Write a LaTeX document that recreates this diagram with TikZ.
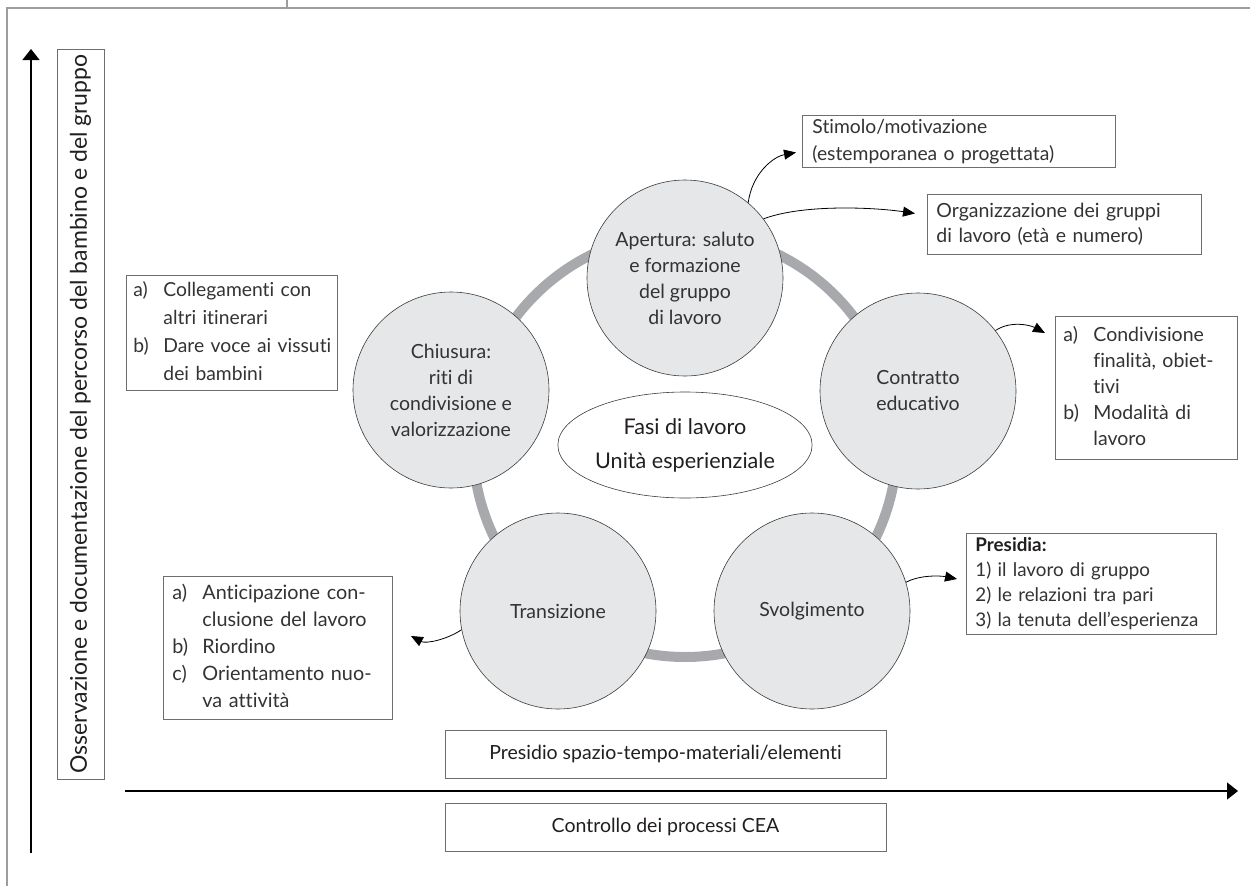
\documentclass[tikz,border=0pt]{standalone}
\usepackage{fontspec}
\setmainfont{Lato}[Ligatures={NoCommon,NoContextual,NoRare}]
\usetikzlibrary{arrows.meta,shapes.geometric}
\definecolor{txt}{HTML}{231F20}
\definecolor{txtl}{HTML}{333335}
\definecolor{cfill}{HTML}{E6E7E8}
\definecolor{cline}{HTML}{3C3C3C}
\definecolor{ringc}{HTML}{A7A9AC}
\definecolor{bline}{HTML}{6D6E71}
\definecolor{framec}{HTML}{9D9D9D}
\newcommand{\lst}[1]{\begin{tabular}{@{}p{30pt}@{}l@{}}#1\end{tabular}}
\begin{document}
\begin{tikzpicture}[x=1pt,y=-1pt,
  phase/.style={circle, draw=cline, line width=0.6pt, fill=cfill, minimum size=196pt, inner sep=0pt, align=center, text=txtl, font=\fontsize{19.5}{26}\selectfont},
  infobox/.style={draw=bline, line width=0.9pt, fill=white, anchor=north west, inner ysep=0pt, align=left, text=txtl},
  conn/.style={line width=0.8pt, -{Triangle[length=12pt,width=10pt]}},
  axis/.style={line width=1.3pt, -{Triangle[length=11pt,width=17pt]}},
]
\useasboundingbox (0,0) rectangle (1250,886);
% page frame
\draw[framec, line width=1.5pt] (7,886) -- (7,8) -- (1250,8);
\draw[framec, line width=1.5pt] (287,0) -- (287,8);
% ring
\draw[ringc, line width=10pt] (685,445) circle[radius=212pt];
% phases
\node[phase] (ap) at (685,278) {Apertura: saluto\\e formazione\\del gruppo\\di lavoro};
\node[phase] (co) at (918,391) {Contratto\\educativo};
\node[phase] (sv) at (812,611) {Svolgimento};
\node[phase] (tr) at (558,611) {Transizione};
\node[phase] (ch) at (451,390) {Chiusura:\\riti di\\condivisione e\\valorizzazione};
\node[ellipse, draw=cline, line width=0.6pt, fill=white, minimum width=225pt, minimum height=106pt, inner sep=0pt, align=center, text=txt, font=\fontsize{21.6}{34}\selectfont] (fa) at (685,445) {Fasi di lavoro\\Unità esperienziale};
% boxes
\node[infobox, minimum width=313pt, minimum height=52pt, text width=293pt, inner xsep=10pt, font=\fontsize{19.3}{27}\selectfont] (st) at (802,115) {Stimolo/motivazione\\(estemporanea o progettata)};
\node[infobox, minimum width=274pt, minimum height=60pt, text width=256pt, inner xsep=9pt, font=\fontsize{19.5}{25}\selectfont] (org) at (927,194) {Organizzazione dei gruppi\\di lavoro (età e numero)};
\node[infobox, minimum width=182pt, minimum height=143pt, text width=166pt, inner xsep=8pt, font=\fontsize{19.5}{26}\selectfont] (cond) at (1055,316) {\lst{a) & Condivisione\\ & finalità, obiet-\\ & tivi\\ b) & Modalità di\\ & lavoro}};
\node[infobox, minimum width=250pt, minimum height=101pt, text width=238pt, inner xsep=6pt, font=\fontsize{18.8}{25}\selectfont] (pres) at (966,533) {\hspace{3pt}{\color{txt}\bfseries Presidia:}\\\hspace{3pt}1) il lavoro di gruppo\\\hspace{3pt}2) le relazioni tra pari\\\hspace{3pt}3) la tenuta dell’esperienza};
\node[infobox, minimum width=211pt, minimum height=115pt, text width=197pt, inner xsep=7pt, font=\fontsize{19.3}{28}\selectfont] (col) at (126,275) {\lst{a) & Collegamenti con\\ & altri itinerari\\ b) & Dare voce ai vissuti\\ & dei bambini}};
\node[infobox, minimum width=229pt, minimum height=143pt, text width=211pt, inner xsep=9pt, font=\fontsize{19.8}{27}\selectfont] (trb) at (163,576) {\lst{a) & Anticipazione con-\\ & clusione del lavoro\\ b) & Riordino\\ c) & Orientamento nuo-\\ & va attività}};
\node[infobox, anchor=center, align=center, minimum width=441pt, minimum height=48pt, text=txt, font=\fontsize{19.5}{22}\selectfont] (psp) at (665.5,754) {Presidio spazio-tempo-materiali/elementi};
\node[infobox, anchor=center, align=center, minimum width=441pt, minimum height=48pt, text=txt, font=\fontsize{19.5}{22}\selectfont] (ctr) at (665.5,827) {Controllo dei processi CEA};
\node[infobox, anchor=center, align=center, rotate=90, minimum width=730pt, minimum height=47pt, text=txt, font=\fontsize{23}{26}\selectfont] (oss) at (80.5,414) {Osservazione e documentazione del percorso del bambino e del gruppo};
% axes
\coordinate (vb) at (31,853);
\coordinate (vt) at (31,49);
\coordinate (hl) at (125,791);
\coordinate (hr) at (1238,791);
\draw[axis] (vb) -- (vt);
\draw[axis] (hl) -- (hr);
% connectors
\draw[conn] (ap.50) .. controls +(4,-30) and +(-22,4) .. ([xshift=-6pt,yshift=-11pt]st.west);
\draw[conn] (ap.37) .. controls +(40,-15) and +(-40,-6) .. ([xshift=-12pt,yshift=11pt]org.west);
\draw[conn] (co.38) .. controls +(15,-10) and +(-15,-8) .. ([xshift=-10pt,yshift=-17pt]cond.north west);
\draw[conn] (sv.17) .. controls +(15,-8) and +(-15,-3) .. ([xshift=-9pt,yshift=5pt]pres.west);
\draw[conn] (tr.191) .. controls +(-15,10) and +(15,8) .. ([xshift=18pt,yshift=12pt]trb.east);
\end{tikzpicture}
\end{document}
